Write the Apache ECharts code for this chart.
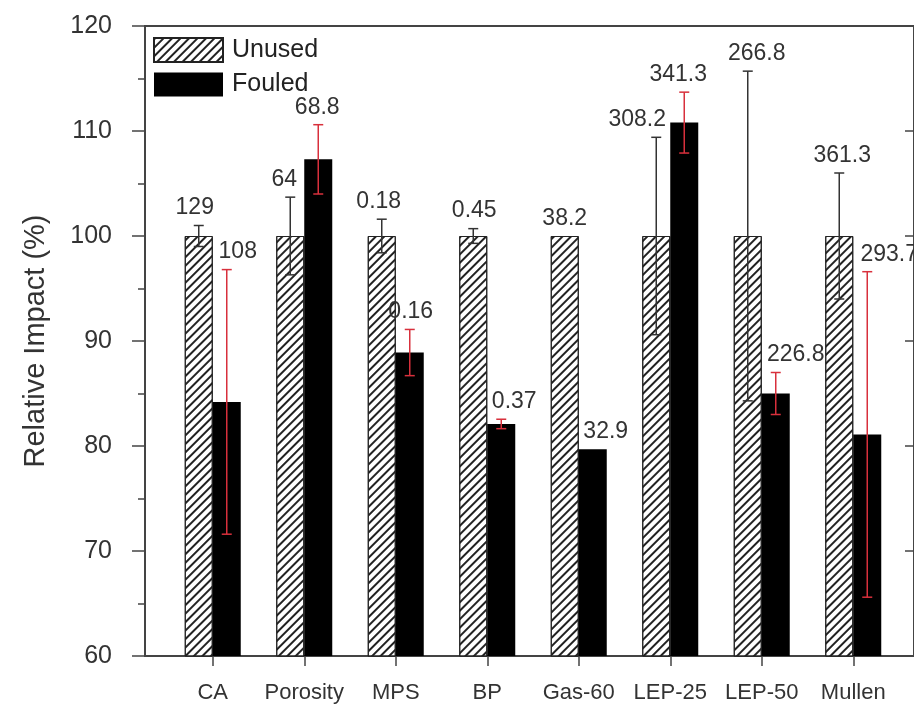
<!DOCTYPE html>
<html>
<head>
<meta charset="utf-8">
<script src="https://cdn.jsdelivr.net/npm/echarts@6/dist/echarts.min.js"></script>
<style>
  html, body { margin: 0; padding: 0; background: #fff; }
  #chart { width: 914px; height: 707px; }
</style>
</head>
<body>
<div id="chart"></div>
<script>
var categories = ['CA', 'Porosity', 'MPS', 'BP', 'Gas-60', 'LEP-25', 'LEP-50', 'Mullen'];
var unused = [100, 100, 100, 100, 100, 100, 100, 100];
var unusedErr = [1.0, 3.7, 1.6, 0.7, 0, 9.4, 15.7, 6.0];
var fouled = [84.2, 107.3, 88.9, 82.1, 79.7, 110.8, 85.0, 81.1];
var fouledErr = [12.6, 3.3, 2.2, 0.45, 0, 2.9, 2.0, 15.5];
var unusedLabels = ['129', '64', '0.18', '0.45', '38.2', '308.2', '266.8', '361.3'];
var fouledLabels = ['108', '68.8', '0.16', '0.37', '32.9', '341.3', '226.8', '293.7'];

// small horizontal nudges of the value labels (layout only)
var unusedShift = [-4, -6, -3, 1, 0, -19, 9, 3];
var fouledShift = [11, -1, 1, 13, 13, -6, 20, 22];

(function() {
    var chart = echarts.init(document.getElementById('chart'));
    var font = 'Liberation Sans, Arial, sans-serif';
    var axisColor = '#444';

    function errData(vals, errs) {
        return vals.map(function(v, i) { return [i, v - errs[i], v + errs[i], v]; });
    }

    // error bar + value label, drawn beside the bar centre
    function errorBars(offset, color, labels, shifts) {
        return function(params, api) {
            var i = api.value(0);
            var lo = api.coord([i, api.value(1)]);
            var hi = api.coord([i, api.value(2)]);
            var x = lo[0] + offset;
            var hw = 5;
            var children = [];
            if (hi[1] !== lo[1]) {
                var st = { stroke: color, lineWidth: 1.5 };
                children.push({ type: 'line', shape: { x1: x, y1: hi[1], x2: x, y2: lo[1] }, style: st });
                children.push({ type: 'line', shape: { x1: x - hw, y1: hi[1], x2: x + hw, y2: hi[1] }, style: st });
                children.push({ type: 'line', shape: { x1: x - hw, y1: lo[1], x2: x + hw, y2: lo[1] }, style: st });
            }
            children.push({
                type: 'text',
                x: x + shifts[i],
                y: hi[1] - 6,
                style: {
                    text: labels[i],
                    textAlign: 'center',
                    textVerticalAlign: 'bottom',
                    fontSize: 23,
                    fontFamily: font,
                    fill: '#333'
                }
            });
            return { type: 'group', children: children };
        };
    }

    var option = {
        animation: false,
        grid: [
            { left: 145, right: -3, top: 26, bottom: 51, show: true, borderColor: axisColor, borderWidth: 2 },
            { left: 167, width: 732, top: 26, bottom: 51 }
        ],
        legend: {
            orient: 'vertical',
            left: 153,
            top: 37,
            padding: 0,
            icon: 'rect',
            itemWidth: 69,
            itemHeight: 24,
            itemGap: 9,
            textStyle: { fontSize: 25, fontFamily: font, color: '#222', padding: [0, 0, 0, 4] },
            data: ['Unused', 'Fouled']
        },
        xAxis: [
            { gridIndex: 0, type: 'value', min: 0, max: 1, show: false },
            {
                gridIndex: 1,
                type: 'category',
                data: categories,
                axisLine: { show: false },
                axisTick: { show: true, alignWithLabel: true, length: 10, lineStyle: { color: axisColor, width: 1.5 } },
                axisLabel: { fontSize: 22, fontFamily: font, color: '#333', margin: 26, interval: 0 }
            }
        ],
        yAxis: [
            {
                gridIndex: 0,
                type: 'value',
                min: 60,
                max: 120,
                interval: 10,
                name: 'Relative Impact (%)',
                nameLocation: 'middle',
                nameGap: 95,
                nameTextStyle: { fontSize: 29, fontFamily: font, color: '#333' },
                axisLine: { show: true, lineStyle: { color: axisColor, width: 2 } },
                axisTick: { show: true, length: 13, lineStyle: { color: axisColor, width: 1.5 } },
                minorTick: { show: true, splitNumber: 2, length: 7, lineStyle: { color: axisColor, width: 1.5 } },
                splitLine: { show: false },
                axisLabel: { fontSize: 25, fontFamily: font, color: '#333', margin: 33 }
            },
            {
                gridIndex: 0,
                type: 'value',
                position: 'right',
                min: 60,
                max: 120,
                interval: 10,
                axisLine: { show: true, lineStyle: { color: axisColor, width: 2 } },
                axisTick: { show: true, inside: true, length: 9, lineStyle: { color: axisColor, width: 1.5 } },
                minorTick: { show: false },
                splitLine: { show: false },
                axisLabel: { show: false }
            },
            { gridIndex: 1, type: 'value', min: 60, max: 120, show: false }
        ],
        series: [
            {
                name: 'Unused',
                type: 'bar',
                xAxisIndex: 1,
                yAxisIndex: 2,
                barWidth: 28,
                barGap: '0%',
                itemStyle: {
                    color: '#fff',
                    borderColor: '#222',
                    borderWidth: 1,
                    decal: {
                        symbol: 'rect',
                        symbolSize: 1,
                        color: '#222',
                        dashArrayX: [1, 0],
                        dashArrayY: [1.6, 3.4],
                        rotation: -Math.PI / 4
                    }
                },
                data: unused
            },
            {
                name: 'Fouled',
                type: 'bar',
                xAxisIndex: 1,
                yAxisIndex: 2,
                barWidth: 28,
                barGap: '0%',
                itemStyle: { color: '#000' },
                data: fouled
            },
            {
                type: 'custom',
                xAxisIndex: 1,
                yAxisIndex: 2,
                renderItem: errorBars(-14, '#333', unusedLabels, unusedShift),
                data: errData(unused, unusedErr),
                z: 10
            },
            {
                type: 'custom',
                xAxisIndex: 1,
                yAxisIndex: 2,
                renderItem: errorBars(14, '#d8303c', fouledLabels, fouledShift),
                data: errData(fouled, fouledErr),
                z: 10
            }
        ]
    };
    chart.setOption(option);
})();
</script>
</body>
</html>
